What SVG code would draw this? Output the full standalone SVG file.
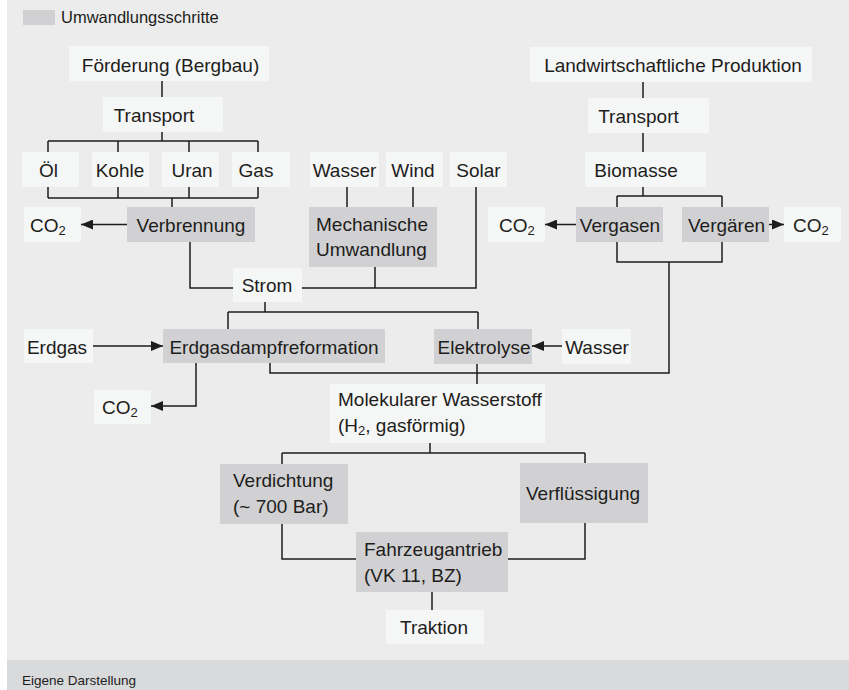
<svg xmlns="http://www.w3.org/2000/svg" width="849" height="690" viewBox="0 0 849 690">
<style>
text{font-family:"Liberation Sans",Arial,sans-serif;font-size:19px;fill:#1d1d1b}
.c{text-anchor:middle}
.w{fill:#f5f6f6}
.g{fill:#d1d1d3}
.ln{fill:none;stroke:#1d1d1b;stroke-width:1.5}
.sub{font-size:13px}
</style>
<defs>
<marker id="ah" markerUnits="userSpaceOnUse" markerWidth="12" markerHeight="10" refX="12" refY="5" orient="auto">
<path d="M0,0 L12,5 L0,10 z" fill="#1d1d1b"/>
</marker>
</defs>
<rect x="0" y="0" width="849" height="690" fill="#ffffff"/>
<rect x="7" y="0" width="842" height="660" fill="#ececec"/>
<rect x="7" y="660" width="842" height="30" fill="#d9dadc"/>
<text x="22" y="685" style="font-size:13.5px">Eigene Darstellung</text>

<g id="legend">
<rect x="23" y="10" width="32" height="15" class="g"/>
<text x="61" y="23" style="font-size:16.5px">Umwandlungsschritte</text>
</g>

<g id="connectors">
<path class="ln" d="M162,81 V97"/>
<path class="ln" d="M162,132 V141 M48,141 H258 M48,141 V152 M118,141 V152 M189,141 V152 M258,141 V152"/>
<path class="ln" d="M48,187 V198 M118,187 V198 M189,187 V198 M258,187 V198 M48,198 H258 M172,198 V207"/>
<path class="ln" d="M127,224.5 H81" marker-end="url(#ah)"/>
<path class="ln" d="M190,242 V288 H233"/>
<path class="ln" d="M347,187 V207 M413,187 V207"/>
<path class="ln" d="M302,288 H476 V187 M375,267 V288"/>
<path class="ln" d="M265,302 V312 M228,312 H478 M228,312 V329 M478,312 V329"/>
<path class="ln" d="M93,346 H163" marker-end="url(#ah)"/>
<path class="ln" d="M196,363 V406 H151" marker-end="url(#ah)"/>
<path class="ln" d="M270,363 V373 H669 V262"/>
<path class="ln" d="M562,346 H532" marker-end="url(#ah)"/>
<path class="ln" d="M477,364 V384"/>
<path class="ln" d="M643,82 V98 M643,133 V152 M643,187 V196 M617,196 H722 M617,196 V207 M722,196 V207"/>
<path class="ln" d="M576,224.5 H545" marker-end="url(#ah)"/>
<path class="ln" d="M769,224.5 H784" marker-end="url(#ah)"/>
<path class="ln" d="M617,242 V262 H722 V242"/>
<path class="ln" d="M430,443 V453 M282,453 H585 M282,453 V464 M585,453 V463"/>
<path class="ln" d="M282,524 V559 H356 M585,523 V559 H508"/>
<path class="ln" d="M432,592 V610"/>
</g>

<g id="foerderung"><rect x="69" y="46" width="200" height="35" class="w"/><text x="170.5" y="71.5" class="c">Förderung (Bergbau)</text></g>
<g id="transport1"><rect x="103" y="97" width="120" height="35" class="w"/><text x="154" y="122" class="c">Transport</text></g>
<g id="oel"><rect x="22" y="152" width="57" height="35" class="w"/><text x="48.5" y="177" class="c">Öl</text></g>
<g id="kohle"><rect x="92" y="152" width="57" height="35" class="w"/><text x="120" y="177" class="c">Kohle</text></g>
<g id="uran"><rect x="162" y="152" width="57" height="35" class="w"/><text x="192" y="177" class="c">Uran</text></g>
<g id="gas"><rect x="232" y="152" width="58" height="35" class="w"/><text x="256" y="177" class="c">Gas</text></g>
<g id="verbrennung"><rect x="127" y="207" width="128" height="35" class="g"/><text x="191" y="231.5" class="c">Verbrennung</text></g>
<g id="co2a"><rect x="24" y="207" width="57" height="35" class="w"/><text x="30" y="231.5">CO<tspan class="sub" dy="3">2</tspan></text></g>
<g id="wasser1"><rect x="310" y="152" width="69" height="35" class="w"/><text x="344.5" y="177" class="c">Wasser</text></g>
<g id="wind"><rect x="386" y="152" width="57" height="35" class="w"/><text x="413" y="177" class="c">Wind</text></g>
<g id="solar"><rect x="450" y="152" width="57" height="35" class="w"/><text x="478.5" y="177" class="c">Solar</text></g>
<g id="mechanisch"><rect x="309" y="207" width="128" height="60" class="g"/><text x="316" y="230.5">Mechanische</text><text x="316" y="256">Umwandlung</text></g>
<g id="strom"><rect x="233" y="268" width="69" height="34" class="w"/><text x="267" y="292" class="c">Strom</text></g>
<g id="landwirtschaft"><rect x="530" y="47" width="282" height="35" class="w"/><text x="673" y="72" class="c">Landwirtschaftliche Produktion</text></g>
<g id="transport2"><rect x="588" y="98" width="121" height="35" class="w"/><text x="638.5" y="123" class="c">Transport</text></g>
<g id="biomasse"><rect x="585" y="152" width="121" height="35" class="w"/><text x="636" y="177" class="c">Biomasse</text></g>
<g id="co2b"><rect x="488" y="207" width="57" height="35" class="w"/><text x="499" y="231.5">CO<tspan class="sub" dy="3">2</tspan></text></g>
<g id="vergasen"><rect x="576" y="207" width="87" height="35" class="g"/><text x="620" y="231.5" class="c">Vergasen</text></g>
<g id="vergaeren"><rect x="682" y="207" width="87" height="35" class="g"/><text x="726.5" y="231.5" class="c">Vergären</text></g>
<g id="co2c"><rect x="784" y="207" width="57" height="35" class="w"/><text x="793" y="231.5">CO<tspan class="sub" dy="3">2</tspan></text></g>
<g id="erdgas"><rect x="24" y="329" width="69" height="34" class="w"/><text x="57" y="353.5" class="c">Erdgas</text></g>
<g id="erdgasdampf"><rect x="163" y="329" width="222" height="34" class="g"/><text x="274" y="353.5" class="c">Erdgasdampfreformation</text></g>
<g id="elektrolyse"><rect x="434" y="329" width="98" height="35" class="g"/><text x="484" y="353.5" class="c">Elektrolyse</text></g>
<g id="wasser2"><rect x="562" y="329" width="69" height="35" class="w"/><text x="597" y="353.5" class="c">Wasser</text></g>
<g id="co2d"><rect x="94" y="390" width="57" height="34" class="w"/><text x="102" y="414">CO<tspan class="sub" dy="3">2</tspan></text></g>
<g id="wasserstoff"><rect x="330" y="384" width="215" height="59" class="w"/><text x="338" y="406">Molekularer Wasserstoff</text><text x="338" y="432">(H<tspan class="sub" dy="3">2</tspan><tspan dy="-3">, gasförmig)</tspan></text></g>
<g id="verdichtung"><rect x="220" y="464" width="128" height="60" class="g"/><text x="233" y="487">Verdichtung</text><text x="233" y="513">(~ 700 Bar)</text></g>
<g id="verfluessigung"><rect x="520" y="463" width="128" height="60" class="g"/><text x="583" y="500" class="c">Verflüssigung</text></g>
<g id="fahrzeug"><rect x="356" y="532" width="152" height="60" class="g"/><text x="364" y="556">Fahrzeugantrieb</text><text x="364" y="582">(VK 11, BZ)</text></g>
<g id="traktion"><rect x="386" y="610" width="98" height="34" class="w"/><text x="434" y="634" class="c">Traktion</text></g>
</svg>
